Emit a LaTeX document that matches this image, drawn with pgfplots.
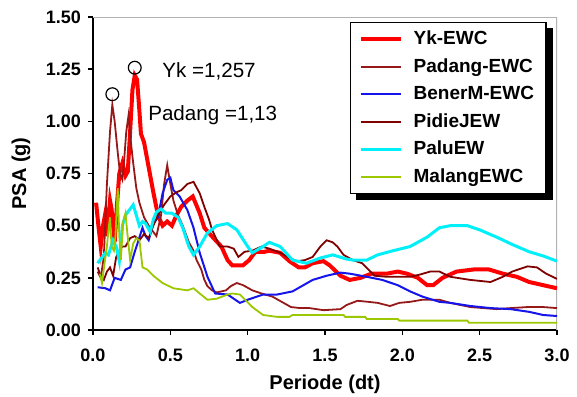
\documentclass[border=0pt]{standalone}
\usepackage{fontspec}
\setmainfont{Liberation Sans}
\usepackage{pgfplots}
\pgfplotsset{compat=1.18}
\usetikzlibrary{backgrounds}

\definecolor{ykred}{RGB}{255,0,0}
\definecolor{padang}{RGB}{150,25,25}
\definecolor{pidie}{RGB}{128,0,0}
\definecolor{bener}{RGB}{20,20,235}
\definecolor{palu}{RGB}{0,240,250}
\definecolor{malang}{RGB}{155,200,0}

\begin{document}
\begin{tikzpicture}
\path[use as bounding box] (-46.5pt,-33pt) rectangle (242pt,165pt);
\begin{axis}[
  at={(0,0)}, anchor=south west,
  scale only axis, width=232pt, height=156.5pt,
  xmin=0, xmax=3, ymin=0, ymax=1.5,
  axis x line*=bottom, axis y line*=left,
  axis line style={-, black, line width=1pt},
  tick align=outside, major tick length=2.5pt,
  tick style={black, line width=0.8pt},
  xtick={0,0.5,...,3}, ytick={0,0.25,...,1.5},
  xticklabel style={yshift=-3.5pt, /pgf/number format/.cd,fixed,fixed zerofill,precision=1},
  yticklabel style={/pgf/number format/.cd,fixed,fixed zerofill,precision=2},
  /pgf/number format/assume math mode=true,
  tick label style={font=\bfseries\fontsize{9}{10}\selectfont},
  every axis x label/.style={at={([yshift=-27pt]axis description cs:0.5,0)}, anchor=center},
  every axis y label/.style={at={([xshift=-36pt]axis description cs:0,0.5)}, rotate=90, anchor=center},
  label style={font=\bfseries\fontsize{10}{12}\selectfont},
  xlabel={Periode (dt)}, ylabel={PSA (g)},
  legend cell align=left,
  legend image code/.code={\draw[#1] (0pt,0pt) -- (20pt,0pt);},
  legend style={name=lgd, at={(rel axis cs:0.554,0.984)}, anchor=north west,
    draw=black, line width=0.6pt, fill=white, inner xsep=4pt, inner ysep=2pt,
    row sep=1.5pt, font=\bfseries\fontsize{9.5}{11}\selectfont,
    /tikz/every odd column/.append style={column sep=3.5pt}},
  clip=true,
]
% upper and right frame in light grey
\draw[gray!60, line width=0.6pt] (rel axis cs:0,1) -- (rel axis cs:1,1) -- (rel axis cs:1,0);

% Yk-EWC
\addplot[ykred, line width=2pt] coordinates {
(0.02,0.61) (0.035,0.50) (0.05,0.40) (0.065,0.50) (0.08,0.56) (0.09,0.45)
(0.11,0.62) (0.12,0.58) (0.14,0.42) (0.155,0.60) (0.17,0.75) (0.19,0.80)
(0.21,0.74) (0.225,0.76) (0.24,0.95) (0.255,1.15) (0.27,1.22) (0.285,1.20)
(0.30,1.05) (0.31,0.94) (0.33,0.90) (0.36,0.78) (0.39,0.66) (0.42,0.55)
(0.45,0.50) (0.48,0.52) (0.51,0.50) (0.54,0.55) (0.57,0.59) (0.61,0.62)
(0.645,0.64) (0.69,0.56) (0.72,0.49) (0.78,0.44) (0.83,0.40) (0.87,0.335)
(0.90,0.31) (0.97,0.31) (1.01,0.335) (1.05,0.375) (1.11,0.375) (1.14,0.38)
(1.21,0.37) (1.27,0.33) (1.33,0.30) (1.37,0.30) (1.42,0.32) (1.49,0.33)
(1.53,0.31) (1.60,0.26) (1.66,0.24) (1.73,0.25) (1.80,0.27) (1.90,0.27)
(1.97,0.28) (2.03,0.27) (2.10,0.25) (2.16,0.215) (2.20,0.215) (2.26,0.25)
(2.35,0.28) (2.46,0.29) (2.56,0.29) (2.65,0.27) (2.74,0.255) (2.82,0.23)
(2.91,0.215) (3.00,0.20)
};
\addlegendentry{Yk-EWC}

% Padang-EWC
\addplot[padang, line width=0.9pt] coordinates {
(0.03,0.28) (0.05,0.25) (0.07,0.35) (0.09,0.70) (0.11,0.95) (0.125,1.08)
(0.14,1.00) (0.16,0.85) (0.175,0.75) (0.19,0.72) (0.20,0.80) (0.215,0.95)
(0.23,1.03) (0.245,0.90) (0.26,0.80) (0.28,0.68) (0.30,0.61) (0.33,0.54)
(0.36,0.50) (0.41,0.45) (0.44,0.55) (0.46,0.70) (0.48,0.79) (0.50,0.70)
(0.52,0.62) (0.55,0.55) (0.58,0.50) (0.62,0.42) (0.65,0.38) (0.67,0.335)
(0.70,0.29) (0.72,0.24) (0.74,0.21) (0.77,0.19) (0.80,0.18) (0.86,0.19)
(0.89,0.21) (0.93,0.225) (0.97,0.215) (1.03,0.19) (1.09,0.175) (1.16,0.16)
(1.22,0.135) (1.28,0.11) (1.34,0.105) (1.40,0.105) (1.49,0.095) (1.60,0.10)
(1.64,0.12) (1.71,0.14) (1.78,0.135) (1.84,0.13) (1.92,0.115) (1.98,0.13)
(2.05,0.135) (2.13,0.145) (2.24,0.145) (2.31,0.13) (2.44,0.11) (2.61,0.10)
(2.70,0.105) (2.81,0.11) (2.91,0.11) (3.00,0.105)
};
\addlegendentry{Padang-EWC}

% BenerM-EWC
\addplot[bener, line width=1pt] coordinates {
(0.03,0.205) (0.08,0.20) (0.11,0.19) (0.14,0.25) (0.18,0.24) (0.21,0.29)
(0.24,0.30) (0.27,0.375) (0.29,0.42) (0.32,0.49) (0.34,0.45) (0.36,0.43)
(0.39,0.51) (0.42,0.54) (0.45,0.655) (0.48,0.72) (0.50,0.73) (0.52,0.67)
(0.56,0.64) (0.61,0.575) (0.65,0.49) (0.69,0.37) (0.74,0.255) (0.79,0.175)
(0.87,0.17) (0.95,0.13) (1.00,0.145) (1.10,0.17) (1.19,0.17) (1.29,0.185)
(1.42,0.24) (1.51,0.26) (1.60,0.275) (1.66,0.27) (1.77,0.255) (1.87,0.24)
(1.97,0.215) (2.05,0.185) (2.13,0.16) (2.24,0.135) (2.31,0.13) (2.44,0.115)
(2.57,0.105) (2.70,0.10) (2.82,0.087) (2.91,0.072) (3.00,0.067)
};
\addlegendentry{BenerM-EWC}

% PidieJEW
\addplot[pidie, line width=0.9pt] coordinates {
(0.03,0.30) (0.05,0.26) (0.07,0.24) (0.09,0.28) (0.11,0.30) (0.13,0.26)
(0.15,0.35) (0.17,0.38) (0.19,0.40) (0.21,0.40) (0.24,0.44) (0.27,0.45)
(0.30,0.43) (0.33,0.46) (0.36,0.44) (0.39,0.50) (0.42,0.55) (0.46,0.60)
(0.50,0.64) (0.54,0.66) (0.57,0.67) (0.61,0.70) (0.65,0.71) (0.69,0.655)
(0.72,0.59) (0.75,0.53) (0.77,0.48) (0.82,0.40) (0.87,0.40) (0.91,0.39)
(0.94,0.35) (0.98,0.375) (1.03,0.38) (1.09,0.40) (1.14,0.39) (1.21,0.37)
(1.27,0.345) (1.32,0.33) (1.37,0.335) (1.42,0.35) (1.47,0.40) (1.51,0.43)
(1.55,0.42) (1.58,0.40) (1.62,0.36) (1.68,0.335) (1.74,0.32) (1.78,0.29)
(1.82,0.26) (1.90,0.255) (2.05,0.255) (2.11,0.265) (2.18,0.28) (2.24,0.28)
(2.31,0.255) (2.44,0.24) (2.57,0.23) (2.65,0.255) (2.71,0.28) (2.81,0.305)
(2.87,0.30) (2.93,0.27) (3.00,0.245)
};
\addlegendentry{PidieJEW}

% PaluEW
\addplot[palu, line width=1.5pt] coordinates {
(0.03,0.32) (0.06,0.35) (0.08,0.37) (0.10,0.36) (0.13,0.43) (0.15,0.40)
(0.17,0.33) (0.19,0.50) (0.21,0.55) (0.24,0.58) (0.26,0.60) (0.28,0.55)
(0.30,0.50) (0.32,0.52) (0.34,0.51) (0.37,0.47) (0.39,0.53) (0.41,0.565)
(0.44,0.58) (0.47,0.56) (0.51,0.56) (0.55,0.54) (0.58,0.49) (0.62,0.40)
(0.65,0.36) (0.69,0.40) (0.74,0.465) (0.80,0.50) (0.87,0.51) (0.93,0.48)
(1.00,0.40) (1.03,0.37) (1.10,0.40) (1.14,0.42) (1.21,0.40) (1.29,0.335)
(1.38,0.32) (1.47,0.345) (1.55,0.36) (1.64,0.34) (1.68,0.335) (1.77,0.335)
(1.84,0.36) (1.94,0.38) (2.05,0.40) (2.16,0.445) (2.24,0.49) (2.31,0.50)
(2.42,0.50) (2.50,0.48) (2.61,0.445) (2.71,0.41) (2.82,0.375) (2.91,0.355)
(3.00,0.33)
};
\addlegendentry{PaluEW}

% MalangEWC
\addplot[malang, line width=0.9pt] coordinates {
(0.045,0.27) (0.058,0.225) (0.075,0.32) (0.09,0.40) (0.10,0.48) (0.11,0.54)
(0.12,0.40) (0.135,0.38) (0.145,0.45) (0.16,0.68) (0.17,0.45) (0.18,0.335)
(0.195,0.52) (0.21,0.56) (0.22,0.48) (0.24,0.335) (0.26,0.415) (0.28,0.44)
(0.30,0.43) (0.32,0.30) (0.35,0.29) (0.39,0.26) (0.45,0.225) (0.52,0.20)
(0.61,0.19) (0.65,0.20) (0.69,0.175) (0.74,0.145) (0.80,0.15) (0.87,0.17)
(0.90,0.175) (0.95,0.17) (1.03,0.11) (1.10,0.072) (1.19,0.063) (1.27,0.063)
(1.29,0.072) (1.62,0.072) (1.63,0.063) (1.76,0.063) (1.77,0.053) (1.97,0.053)
(1.98,0.045) (2.42,0.045) (2.43,0.035) (3.00,0.035)
};
\addlegendentry{MalangEWC}

% peak markers
\addplot[only marks, mark=o, mark size=3.2pt, mark options={draw=black, fill=white, line width=0.6pt}, forget plot]
  coordinates {(0.27,1.257) (0.125,1.13)};

\node[anchor=west, inner sep=0pt, font=\fontsize{10.3}{12}\selectfont] at (axis cs:0.446,1.24) {Yk =1,257};
\node[anchor=west, inner sep=0pt, font=\fontsize{10.3}{12}\selectfont] at (axis cs:0.355,1.03) {Padang =1,13};
\end{axis}
% solid shadow behind the legend box
\begin{pgfonlayer}{background}
\fill[black] ([xshift=3pt,yshift=-3pt]lgd.south west) rectangle ([xshift=3pt,yshift=-3pt]lgd.north east);
\end{pgfonlayer}
\end{tikzpicture}
\end{document}
